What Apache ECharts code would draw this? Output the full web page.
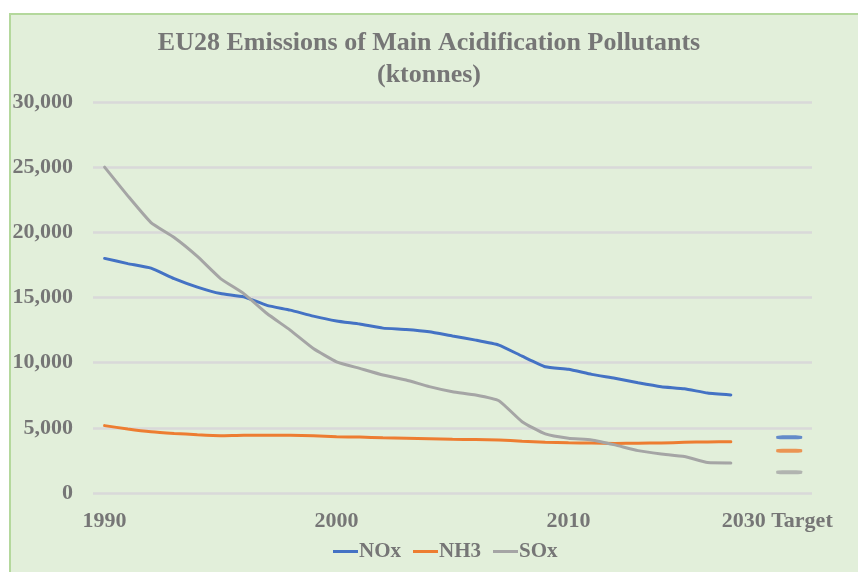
<!DOCTYPE html>
<html>
<head>
<meta charset="utf-8">
<script src="https://cdn.jsdelivr.net/npm/echarts@6/dist/echarts.min.js"></script>
<style>
  body { margin: 0; background: #fff; }
  #main { width: 858px; height: 572px; }
</style>
</head>
<body>
<div id="main"></div>
<script>
// categories: 1990-2017, a gap, then the 2030 target column
var years = ['1990', '1991', '1992', '1993', '1994', '1995', '1996', '1997', '1998', '1999',
  '2000', '2001', '2002', '2003', '2004', '2005', '2006', '2007', '2008', '2009',
  '2010', '2011', '2012', '2013', '2014', '2015', '2016', '2017', '', '2030 Target', ''];

var nox = [18000, 17600, 17250, 16450, 15800, 15300, 15050, 14400, 14030, 13570,
  13200, 12960, 12650, 12550, 12370, 12040, 11730, 11350, 10500, 9690,
  9490, 9100, 8800, 8460, 8160, 8000, 7670, 7520];
var nh3 = [5170, 4910, 4700, 4570, 4470, 4400, 4440, 4440, 4430, 4400,
  4310, 4290, 4230, 4200, 4170, 4120, 4100, 4070, 3970, 3900,
  3850, 3830, 3800, 3820, 3840, 3890, 3920, 3930];
var sox = [25000, 22800, 20750, 19600, 18150, 16450, 15300, 13770, 12500, 11090,
  10070, 9560, 9050, 8670, 8160, 7770, 7520, 7080, 5470, 4530,
  4200, 4070, 3690, 3250, 3000, 2800, 2340, 2310];

var targetLabel = '2030 Target';
var targets = { NOx: 4270, NH3: 3240, SOx: 1590 };

var colors = { NOx: '#4472c4', NH3: '#ed7d31', SOx: '#a5a5a5' };
var font = "'Liberation Serif', 'Times New Roman', serif";
var grey = '#767676';

var myChart = echarts.init(document.getElementById('main'));

function lineSeries(name, values) {
  return {
    name: name,
    type: 'line',
    data: values,
    symbol: 'none',
    smooth: 0.15,
    lineStyle: { color: colors[name], width: 3, cap: 'round' },
    itemStyle: { color: colors[name] },
    z: 3
  };
}

// target dashes sit a little right of the label, as in the original
function targetSeries(name) {
  return {
    name: name + ' target',
    type: 'scatter',
    data: [[targetLabel, targets[name]]],
    symbol: 'roundRect',
    symbolSize: [26, 4],
    symbolOffset: [12, 0],
    itemStyle: { color: colors[name] },
    z: 3
  };
}

myChart.setOption({
  backgroundColor: '#fff',
  animation: false,
  graphic: [{
    type: 'rect',
    z: -10,
    shape: { x: 10, y: 14, width: 860, height: 570 },
    style: { fill: '#e2efda', stroke: '#b4d89c', lineWidth: 2 }
  }],
  title: {
    text: 'EU28 Emissions of Main Acidification Pollutants\n(ktonnes)',
    left: 'center',
    top: 22,
    textStyle: {
      fontFamily: font,
      fontWeight: 'bold',
      fontSize: 26,
      lineHeight: 32,
      color: grey
    }
  },
  legend: {
    data: ['NOx', 'NH3', 'SOx'],
    bottom: 5,
    left: 328,
    itemWidth: 25,
    itemHeight: 3,
    itemGap: 12,
    icon: 'rect',
    textStyle: {
      fontFamily: font, fontWeight: 'bold', fontSize: 21, color: grey,
      padding: [0, 0, 0, -4]
    }
  },
  grid: { left: 93, right: 46, top: 102, bottom: 79 },
  xAxis: {
    type: 'category',
    data: years,
    boundaryGap: true,
    axisLine: { show: false },
    axisTick: { show: false },
    axisLabel: {
      interval: function (index, value) {
        return value !== '' && (index % 10 === 0 || value === targetLabel);
      },
      margin: 17,
      fontFamily: font,
      fontWeight: 'bold',
      fontSize: 22,
      color: grey
    }
  },
  yAxis: {
    type: 'value',
    min: 0,
    max: 30000,
    interval: 5000,
    axisLine: { show: false },
    axisTick: { show: false },
    splitLine: { lineStyle: { color: '#d9d9d9', width: 2.5 } },
    axisLabel: {
      margin: 20,
      fontFamily: font,
      fontWeight: 'bold',
      fontSize: 22,
      color: grey,
      formatter: function (v) { return v.toLocaleString('en-US'); }
    }
  },
  series: [
    lineSeries('NOx', nox),
    lineSeries('NH3', nh3),
    lineSeries('SOx', sox),
    targetSeries('NOx'),
    targetSeries('NH3'),
    targetSeries('SOx')
  ]
});
</script>
</body>
</html>
